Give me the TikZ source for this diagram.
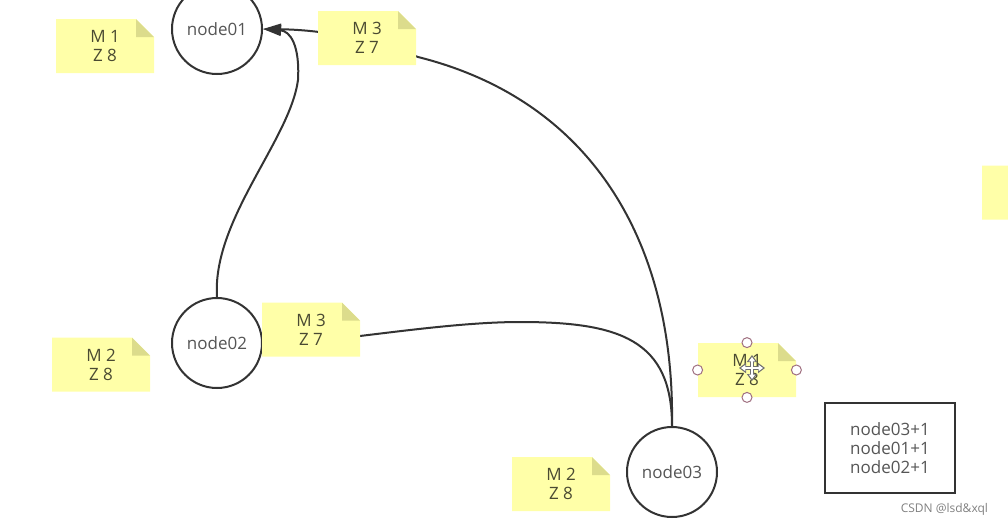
\documentclass[tikz,border=0pt]{standalone}
\usepackage{fontspec}
\setmainfont{Open Sans}
\usetikzlibrary{arrows.meta,positioning,calc}
\definecolor{tinta}{HTML}{333333}
\definecolor{texto}{HTML}{555555}
\definecolor{nota}{HTML}{FFFFA8}
\definecolor{dobra}{HTML}{DCDC8C}
\definecolor{notatxt}{HTML}{4A4A32}
\definecolor{alca}{HTML}{A07080}

\begin{document}
\begin{tikzpicture}[x=0.5pt, y=-0.5pt, >={Triangle[length=9pt,width=5.5pt]},
  font=\fontsize{8.5}{9.5}\selectfont,
  no/.style={draw=tinta, line width=1pt, circle, fill=white, minimum size=45pt, inner sep=0pt, text=texto},
  nt/.style={minimum width=49pt, minimum height=27pt, align=center, inner sep=0pt, text=notatxt,
    path picture={
      \fill[nota] (path picture bounding box.south west) -- (path picture bounding box.north west)
        -- ([xshift=-9pt]path picture bounding box.north east) -- ([yshift=-9pt]path picture bounding box.north east)
        -- (path picture bounding box.south east) -- cycle;
      \fill[dobra] ([xshift=-9pt]path picture bounding box.north east) -- ([yshift=-9pt]path picture bounding box.north east)
        -- ([xshift=-9pt,yshift=-9pt]path picture bounding box.north east) -- cycle;}},
  ed/.style={draw=tinta, line width=1pt},
  hd/.style={circle, draw=alca, fill=white, minimum size=5pt, inner sep=0pt, line width=0.5pt}]
  \useasboundingbox (0,0) rectangle (1008,526);
  % circulos
  \node[no] (node01) at (217,29) {node01};
  \node[no] (node02) at (217,343) {node02};
  \node[no] (node03) at (672,472) {node03};
  % arestas
  \draw[ed, ->] (node02.north) .. controls (212,220) and (290,140) .. (298,80)
    .. controls (300,45) and (290,31) .. (node01.east);
  \draw[ed, ->] (node03.north) .. controls (675,240) and (590,100) .. (418,57)
    .. controls (380,42) and (330,30) .. (node01.east);
  \draw[ed, ->] (node03.north) .. controls (672,340) and (620,322) .. (520,322)
    .. controls (440,322) and (330,343) .. (node02.east);
  % notas
  \node[nt] (m1a) at (105,46) {M 1\\Z 8};
  \node[nt] (m3a) at (367,38) {M 3\\Z 7};
  \node[nt] (m3b) at (311,329.5) {M 3\\Z 7};
  \node[nt] (m2a) at (101,364.5) {M 2\\Z 8};
  \node[nt] (m1b) at (747,370) {M 1\\Z 8};
  \node[nt] (m2b) at (561,484) {M 2\\Z 8};
  \node[nt] (mx) at (1031,192.5) {};
  % selecao
  \node[hd] (h1) at (m1b.north) {};
  \node[hd] (h2) at (m1b.south) {};
  \node[hd] (h3) at (m1b.west) {};
  \node[hd] (h4) at (m1b.east) {};
  \coordinate (cur) at (752,368);
  \draw[line width=2.2pt, tinta!70, {Triangle[length=3.5pt,width=5pt]}-{Triangle[length=3.5pt,width=5pt]}]
    ($(cur)+(-13,0)$) -- ($(cur)+(13,0)$);
  \draw[line width=2.2pt, tinta!70, {Triangle[length=3.5pt,width=5pt]}-{Triangle[length=3.5pt,width=5pt]}]
    ($(cur)+(0,-13)$) -- ($(cur)+(0,13)$);
  \draw[line width=1pt, white, {Triangle[length=2.2pt,width=3pt]}-{Triangle[length=2.2pt,width=3pt]}]
    ($(cur)+(-11,0)$) -- ($(cur)+(11,0)$);
  \draw[line width=1pt, white, {Triangle[length=2.2pt,width=3pt]}-{Triangle[length=2.2pt,width=3pt]}]
    ($(cur)+(0,-11)$) -- ($(cur)+(0,11)$);
  % contagem
  \node[draw=tinta, line width=1pt, minimum width=65pt, minimum height=45pt, align=center, text=texto]
    (conta) at (890,448) {node03+1\\node01+1\\node02+1};
  \node[anchor=east, font=\fontsize{6}{7}\selectfont, text=gray] (marca) at (995,509) {CSDN @lsd\&xql};
\end{tikzpicture}
\end{document}
